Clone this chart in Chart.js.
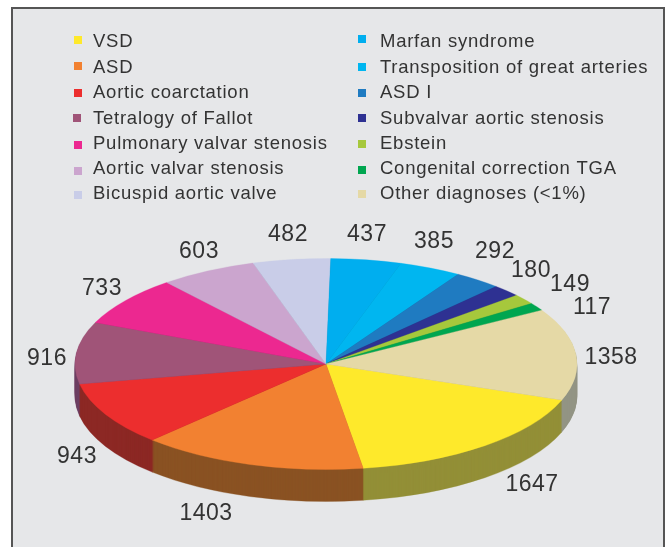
<!DOCTYPE html>
<html>
<head>
<meta charset="utf-8">
<script src="https://cdn.jsdelivr.net/npm/chart.js@4"></script>
<style>
  html, body { margin: 0; padding: 0; background: #fff; overflow: hidden; }
  #panel { position: absolute; left: 11px; top: 7px; width: 650px; height: 545px;
           background: #e6e7e9; border: 2px solid #555; }
  #pie { position: absolute; left: 0; top: 0; }
</style>
</head>
<body>
<div id="panel"></div>
<canvas id="pie" width="667" height="547"></canvas>
<script>
var diagnoses = ["VSD", "ASD", "Aortic coarctation", "Tetralogy of Fallot", "Pulmonary valvar stenosis",
                 "Aortic valvar stenosis", "Bicuspid aortic valve", "Marfan syndrome",
                 "Transposition of great arteries", "ASD I", "Subvalvar aortic stenosis", "Ebstein",
                 "Congenital correction TGA", "Other diagnoses (<1%)"];
var counts = [1647, 1403, 943, 916, 733, 603, 482, 437, 385, 292, 180, 149, 117, 1358];
var topColors = ["#fee92b", "#f28131", "#ec2e2e", "#a05478", "#ec2890", "#cba5ce", "#c9cde8",
                 "#00aeef", "#00b6f0", "#1f7bc1", "#2e3192", "#a6c83c", "#00a650", "#e5d9a6"];
var sideColors = ["#938f37", "#8a5223", "#8c2824", "#6d3f62", "#8c2062", "#7d6680", "#7d7f90",
                  "#006c94", "#00709a", "#134c78", "#1c1e5a", "#677c25", "#006632", "#939484"];

// where each count was set by hand around the rim, same order as counts
var countPos = [[532, 485], [206, 514], [77, 457], [47, 359], [102, 289], [199, 252], [288, 235],
                [367, 235], [434, 242], [495, 252], [531, 271], [570, 285], [592, 308], [611, 358]];
var legendRows = [47, 73, 98, 124, 149, 174, 199];
var swatchTops = [36, 62, 89, 114, 141, 167, 191, 35, 63, 89, 114, 140, 166, 190];

var pieX = 326, pieY = 364, radius = 251, squash = 105.5 / 251, depth = 32;

function tilt(ctx, arc, drop) {
    ctx.translate(pieX, pieY + drop);
    ctx.scale(1, squash);
    ctx.translate(-arc.x, -arc.y);
}

var tiltPlugin = {
    id: 'tilt',
    beforeDatasetsDraw: function(chart) {
        var ctx = chart.ctx;
        var arcs = chart.getDatasetMeta(0).data;
        // stack of darker copies going up gives the rim
        for (var d = depth; d > 0; d--) {
            ctx.save();
            tilt(ctx, arcs[0], d);
            arcs.forEach(function(arc, i) {
                var side = new Chart.ArcElement({});
                Object.assign(side, {
                    x: arc.x, y: arc.y, startAngle: arc.startAngle, endAngle: arc.endAngle,
                    innerRadius: arc.innerRadius, outerRadius: arc.outerRadius,
                    circumference: arc.circumference,
                    options: Object.assign({}, arc.options, { backgroundColor: sideColors[i], borderColor: sideColors[i] })
                });
                side.draw(ctx);
            });
            ctx.restore();
        }
        ctx.save();
        tilt(ctx, arcs[0], 0);
    },
    afterDatasetsDraw: function(chart) {
        chart.ctx.restore();
    },
    afterDraw: function(chart) {
        var ctx = chart.ctx;
        ctx.save();
        ctx.textBaseline = "alphabetic";
        ctx.font = "18.5px 'Liberation Sans'";
        ctx.letterSpacing = "0.75px";
        diagnoses.forEach(function(name, i) {
            var right = i >= 7;
            var row = right ? i - 7 : i;
            ctx.fillStyle = topColors[i];
            ctx.fillRect(right ? 358 : (i == 3 ? 73 : 74), swatchTops[i], 8, 8);
            ctx.fillStyle = "#333";
            ctx.fillText(name, right ? 380 : 93, legendRows[row]);
        });
        ctx.font = "23px 'Liberation Sans'";
        ctx.letterSpacing = "0.5px";
        ctx.textAlign = "center";
        ctx.textBaseline = "middle";
        counts.forEach(function(v, i) {
            ctx.fillText(String(v), countPos[i][0], countPos[i][1]);
        });
        ctx.restore();
    }
};

new Chart(document.getElementById("pie"), {
    type: 'pie',
    data: {
        labels: diagnoses,
        datasets: [{
            data: counts,
            backgroundColor: topColors,
            borderColor: topColors,
            borderWidth: 0.5,
            clip: false
        }]
    },
    options: {
        responsive: false,
        animation: false,
        rotation: 110,
        radius: radius,
        layout: { padding: 0 },
        plugins: {
            legend: { display: false },
            tooltip: { enabled: false }
        }
    },
    plugins: [tiltPlugin]
});
document.getElementById("pie").style.transformOrigin = "0 0";
</script>
</body>
</html>
